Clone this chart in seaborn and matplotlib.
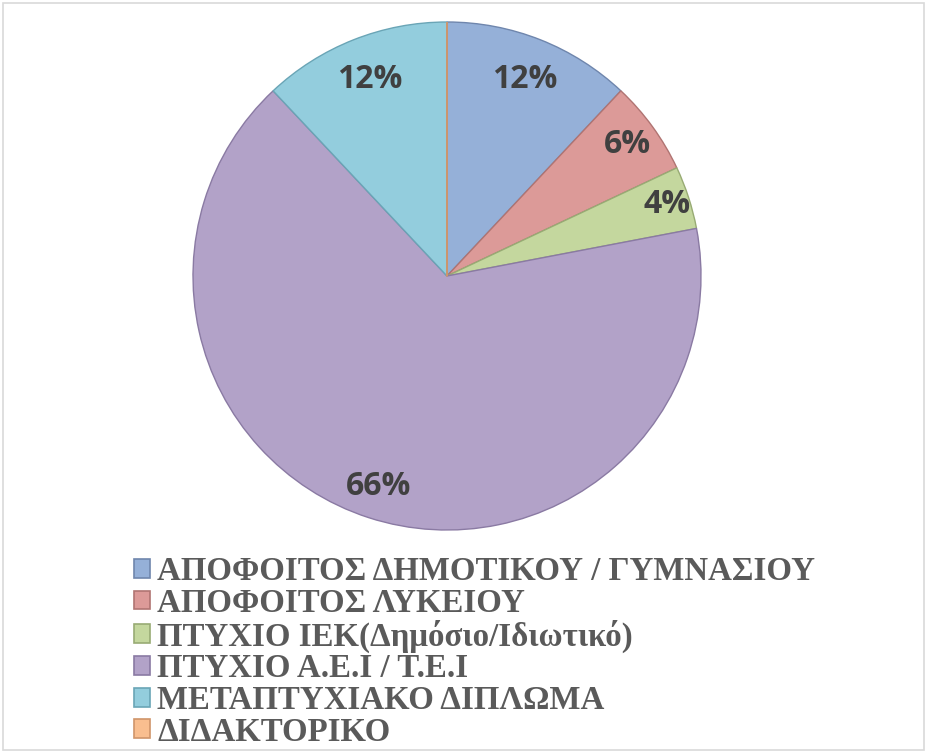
import numpy as np
import pandas as pd
import seaborn as sns
import matplotlib.pyplot as plt
from matplotlib.patches import Rectangle

# ----------------------------------------
# data
# ----------------------------------------
categories = ['ΑΠΟΦΟΙΤΟΣ ΔΗΜΟΤΙΚΟΥ / ΓΥΜΝΑΣΙΟΥ',
              'ΑΠΟΦΟΙΤΟΣ ΛΥΚΕΙΟΥ',
              'ΠΤΥΧΙΟ ΙΕΚ(Δημόσιο/Ιδιωτικό)',
              'ΠΤΥΧΙΟ Α.Ε.Ι / Τ.Ε.Ι',
              'ΜΕΤΑΠΤΥΧΙΑΚΟ ΔΙΠΛΩΜΑ',
              'ΔΙΔΑΚΤΟΡΙΚΟ']
shares = [12, 6, 4, 66, 12, 0]

colors = ['#95b0d8', '#dc9a98', '#c4d79e', '#b2a2c8', '#93cddd', '#f9be8f']
edges = ['#6f86ad', '#b07472', '#98ab74', '#8a7aa3', '#6aa5b6', '#d0956a']
label_dist = [0.83, 0.88, 0.91, 0.87, 0.83, 0.8]

df = pd.DataFrame({'category': categories, 'share': shares})

sns.set_theme(style="white")

fig = plt.figure(figsize=(9.27, 7.52), dpi=100)
fig.patch.set_facecolor('white')

# light frame around the chart area
fig.patches.append(Rectangle((3 / 927, 2 / 752), 921 / 927, 747 / 752,
                             transform=fig.transFigure, fill=False,
                             edgecolor='#d9d9d9', linewidth=1.2))

ax = fig.add_axes([193 / 927, 222 / 752, 508 / 927, 508 / 752])

wedges, _ = ax.pie(df['share'], colors=colors, startangle=90, counterclock=False,
                   radius=1.0, wedgeprops=dict(linewidth=1.0))
for w, ec in zip(wedges, edges):
    w.set_edgecolor(ec)
# zero-width slice still shows as a thin line at the top
ax.plot([0, 0], [0, 1], color=edges[-1], lw=1.2, zorder=3)

for w, val, d in zip(wedges, df['share'], label_dist):
    if val == 0:
        continue
    ang = np.deg2rad((w.theta1 + w.theta2) / 2)
    ax.text(d * np.cos(ang), d * np.sin(ang), f'{val}%', ha='center', va='center',
            fontsize=23, fontweight='bold', color='#404040', family=['Open Sans', 'DejaVu Sans'])

ax.set_xlim(-1.0, 1.0)
ax.set_ylim(-1.0, 1.0)
ax.set_aspect('equal')
ax.axis('off')

handles = [Rectangle((0, 0), 1, 1, facecolor=c, edgecolor=e, linewidth=1.2)
           for c, e in zip(colors, edges)]
leg = fig.legend(handles, df['category'], loc='upper left',
                 bbox_to_anchor=(134 / 927, 1 - 556 / 752),
                 frameon=False, handlelength=0.5, handleheight=0.5,
                 handletextpad=0.2, labelspacing=0.02, borderpad=0,
                 borderaxespad=0,
                 prop=dict(family=['Liberation Serif', 'DejaVu Serif'],
                           weight='bold', size=23.7))
for t in leg.get_texts():
    t.set_color('#5a5a5a')

fig.savefig('out.png', dpi=100)
